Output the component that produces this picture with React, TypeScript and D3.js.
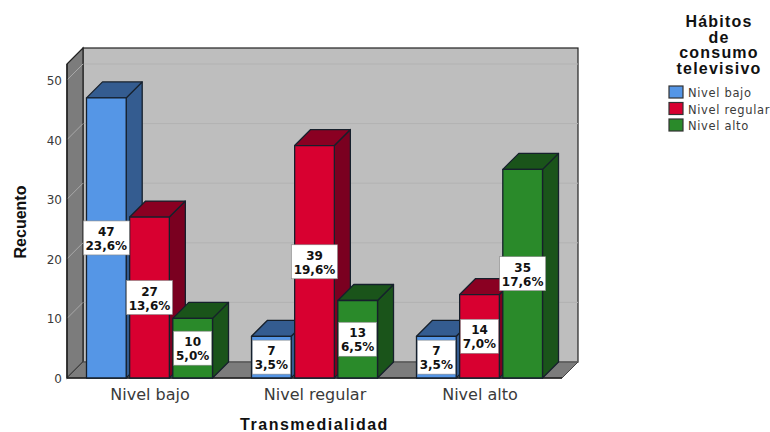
import React from "react";
import * as d3 from "d3";

const categories = ["Nivel bajo", "Nivel regular", "Nivel alto"];
const seriesNames = ["Nivel bajo", "Nivel regular", "Nivel alto"];
const counts = [
  [47, 27, 10],
  [7, 39, 13],
  [7, 14, 35],
];
const percents = [
  ["23,6%", "13,6%", "5,0%"],
  ["3,5%", "19,6%", "6,5%"],
  ["3,5%", "7,0%", "17,6%"],
];
const yTicks = [0, 10, 20, 30, 40, 50];
const frontColors = ["#5596e6", "#d80030", "#2a8a2a"];
const topColors = ["#345c90", "#8a0022", "#1a541a"];
const sideColors = ["#345c90", "#7a0020", "#1a541a"];
const legendTitle = ["Hábitos", "de", "consumo", "televisivo"];

const FONT = "'DejaVu Sans', sans-serif";
const BOLD_FONT = "'Liberation Sans', sans-serif";
const DX = 16;
const DY = 16;

export default function App() {
  const x0 = d3.scaleBand<string>().domain(categories).range([67, 562]);
  const x1 = d3.scaleBand<string>().domain(seriesNames).range([-63, 63]).paddingInner(0.08);
  const y = d3.scaleLinear().domain([0, 50]).range([378, 80]);
  const top = 64;
  const floorY = y(0);
  const left = 67;
  const right = 562;

  return (
    <svg
      width={770}
      height={432}
      style={{ position: "absolute", left: 0, top: 0, background: "#fff" }}
      fontFamily={FONT}
    >
      {/* back wall */}
      <rect x={left + DX} y={top - DY} width={right - left} height={floorY - top} fill="#bebebe" stroke="#222" strokeWidth={1.2} />
      {yTicks.map((t) => (
        <line key={t} x1={left + DX} x2={right + DX} y1={y(t) - DY} y2={y(t) - DY} stroke="#b2b2b2" strokeWidth={1} />
      ))}
      {/* left wall */}
      <polygon
        points={`${left},${top} ${left + DX},${top - DY} ${left + DX},${floorY - DY} ${left},${floorY}`}
        fill="#7c7c7c"
        stroke="#222"
        strokeWidth={1.2}
      />
      {yTicks.map((t) => (
        <line key={t} x1={left} x2={left + DX} y1={y(t)} y2={y(t) - DY} stroke="#a8a8a8" strokeWidth={1} />
      ))}
      {/* floor */}
      <polygon
        points={`${left},${floorY} ${left + DX},${floorY - DY} ${right + DX},${floorY - DY} ${right},${floorY}`}
        fill="#7c7c7c"
        stroke="#444"
        strokeWidth={1}
      />
      <line x1={left} x2={left} y1={top} y2={floorY} stroke="#222" strokeWidth={1.4} />
      <line x1={left} x2={right} y1={floorY} y2={floorY} stroke="#222" strokeWidth={1.4} />

      {/* axis labels */}
      {yTicks.map((t) => (
        <text key={t} x={62} y={y(t) + 5} textAnchor="end" fontSize={12} fill="#3a3a3a">
          {t}
        </text>
      ))}
      {categories.map((c) => (
        <text key={c} x={(x0(c) ?? 0) + x0.bandwidth() / 2 + 0.5} y={400} textAnchor="middle" fontSize={16} fill="#3a3a3a">
          {c}
        </text>
      ))}

      {/* bars, back to front within each group */}
      {categories.map((c, ci) => {
        const cx = (x0(c) ?? 0) + x0.bandwidth() / 2;
        return (
          <g key={c}>
            {seriesNames.map((s, si) => {
              const bx = cx + (x1(s) ?? 0);
              const w = x1.bandwidth();
              const v = counts[ci][si];
              const yt = y(v);
              return (
                <g key={s} stroke="#16202c" strokeWidth={1.3} strokeLinejoin="round">
                  <polygon
                    points={`${bx + w},${yt} ${bx + w + DX},${yt - DY} ${bx + w + DX},${floorY - DY} ${bx + w},${floorY}`}
                    fill={sideColors[si]}
                  />
                  <polygon
                    points={`${bx},${yt} ${bx + DX},${yt - DY} ${bx + w + DX},${yt - DY} ${bx + w},${yt}`}
                    fill={topColors[si]}
                  />
                  <rect x={bx} y={yt} width={w} height={floorY - yt} fill={frontColors[si]} />
                </g>
              );
            })}
          </g>
        );
      })}

      {/* value boxes */}
      {categories.map((c, ci) => {
        const cx = (x0(c) ?? 0) + x0.bandwidth() / 2;
        return seriesNames.map((s, si) => {
          const w = x1.bandwidth();
          const mid = cx + (x1(s) ?? 0) + w / 2;
          const v = counts[ci][si];
          const my = (y(v) + floorY) / 2;
          const pct = percents[ci][si];
          const bw = pct.length > 4 ? 46 : 38;
          return (
            <g key={c + s}>
              <rect x={mid - bw / 2} y={my - 17} width={bw} height={34} fill="#fff" stroke="#888" strokeWidth={0.6} />
              <text x={mid} y={my - 2} textAnchor="middle" fontSize={12} fontWeight={700} fill="#111">
                {v}
              </text>
              <text x={mid} y={my + 12} textAnchor="middle" fontSize={12} fontWeight={700} fill="#111">
                {pct}
              </text>
            </g>
          );
        });
      })}

      {/* axis titles */}
      <text
        transform="translate(26,222) rotate(-90)"
        textAnchor="middle"
        fontSize={16}
        fontWeight={700}
        fontFamily={BOLD_FONT}
        fill="#111"
      >
        Recuento
      </text>
      <text x={314.5} y={430} textAnchor="middle" fontSize={16} fontWeight={700} letterSpacing={1.5} fontFamily={BOLD_FONT} fill="#111">
        Transmedialidad
      </text>

      {/* legend */}
      {legendTitle.map((t, i) => (
        <text key={t} x={719} y={27 + i * 15.6} textAnchor="middle" fontSize={16} fontWeight={700} letterSpacing={1.2} fontFamily={BOLD_FONT} fill="#111">
          {t}
        </text>
      ))}
      {seriesNames.map((s, i) => (
        <g key={s}>
          <rect x={669} y={86 + i * 16.5} width={14} height={12} fill={frontColors[i]} stroke="#333" strokeWidth={1.2} />
          <text x={688} y={97 + i * 16.5} fontSize={11.5} letterSpacing={0.65} fill="#3a3a3a">
            {s}
          </text>
        </g>
      ))}
    </svg>
  );
}
